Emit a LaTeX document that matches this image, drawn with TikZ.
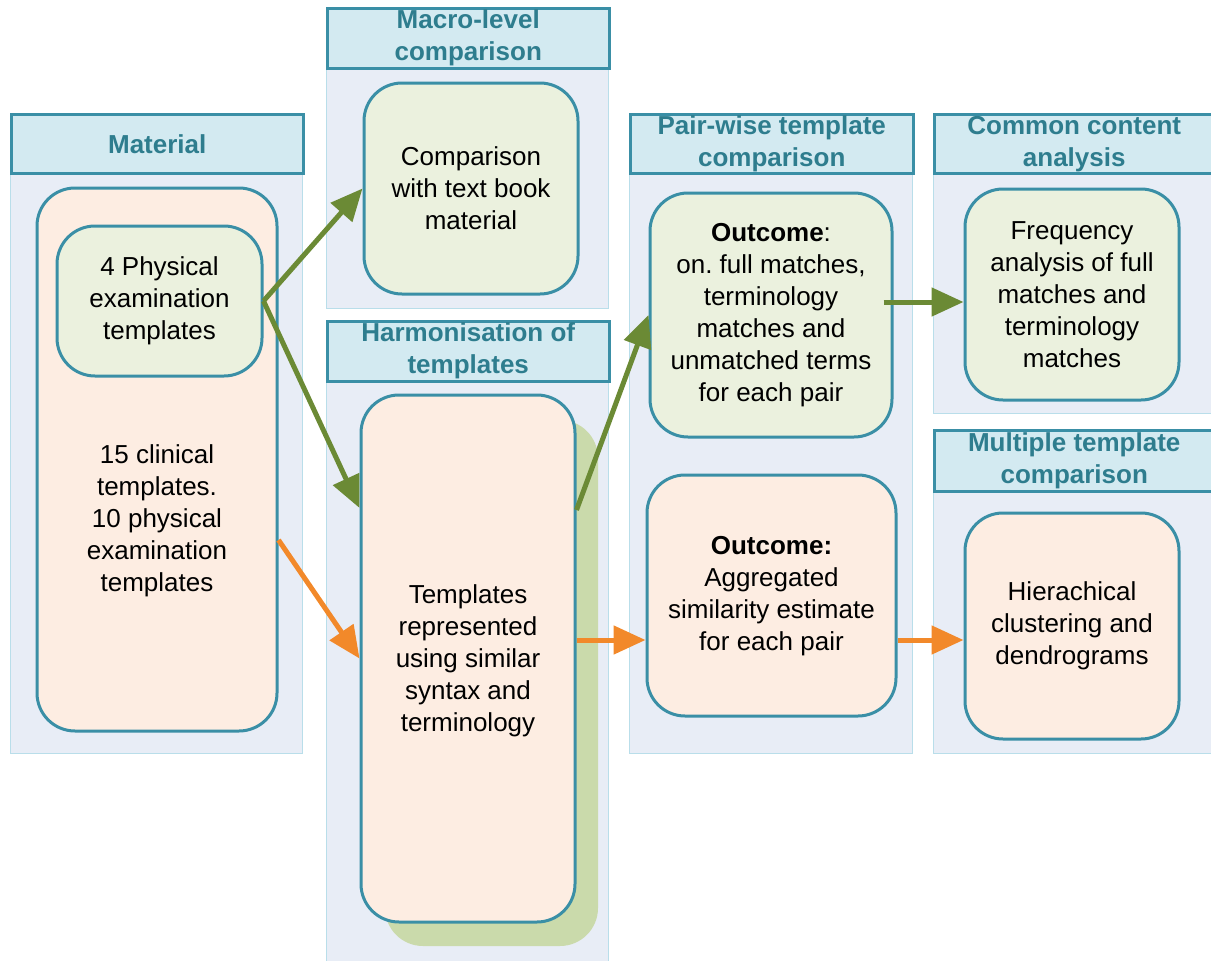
\documentclass[tikz,border=0pt]{standalone}
\usepackage{fontspec}
\setmainfont{Liberation Sans}
\usetikzlibrary{arrows.meta,calc}

\definecolor{lanefill}{HTML}{E8EDF6}
\definecolor{laneline}{HTML}{B9DEEA}
\definecolor{hdrfill}{HTML}{D3EAF1}
\definecolor{teal}{HTML}{3A8FA6}
\definecolor{hdrtext}{HTML}{2E7D8E}
\definecolor{greenfill}{HTML}{EBF1DE}
\definecolor{peachfill}{HTML}{FDEDE2}
\definecolor{shadowgreen}{HTML}{CADAAB}
\definecolor{olivearrow}{HTML}{6B8A35}
\definecolor{orangearrow}{HTML}{F2892A}

\begin{document}
\frenchspacing
\begin{tikzpicture}[x=1pt,y=-1pt,
  lane/.style={draw=laneline, fill=lanefill, line width=1.2pt, inner sep=0pt, anchor=north west},
  hdr/.style={draw=teal, fill=hdrfill, line width=2.5pt, inner sep=0pt, anchor=north west,
    align=center, text=hdrtext, font=\fontsize{26}{32}\selectfont\bfseries},
  box/.style={draw=teal, line width=3pt, rounded corners=38pt, inner sep=0pt,
    align=center, font=\fontsize{26}{32}\selectfont},
  gbox/.style={box, fill=greenfill},
  pbox/.style={box, fill=peachfill},
  txt/.style={align=center, inner sep=0pt, font=\fontsize{26}{32}\selectfont},
  shadowbox/.style={fill=shadowgreen, rounded corners=38pt, inner sep=0pt},
  garrow/.style={draw=olivearrow, line width=5pt, -{Triangle[length=32pt,width=28pt]}},
  oarrow/.style={draw=orangearrow, line width=5pt, -{Triangle[length=32pt,width=28pt]}}
]
\useasboundingbox (0,0) rectangle (1211,961);

% swim lanes
\node[lane, minimum width=292pt, minimum height=640pt] (matlane) at (10,113) {};
\node[lane, minimum width=282pt, minimum height=301pt] (macrolane) at (326,7) {};
\node[lane, minimum width=282pt, minimum height=645pt] (harmlane) at (326,320) {};
\node[lane, minimum width=283pt, minimum height=640pt] (pwlane) at (629,113) {};
\node[lane, minimum width=280pt, minimum height=300pt] (cclane) at (933,113) {};
\node[lane, minimum width=280pt, minimum height=324pt] (mtlane) at (933,429) {};

% lane headers
\node[hdr, minimum width=292pt, minimum height=59pt] (mathdr) at (10,113) {Material};
\node[hdr, minimum width=282pt, minimum height=60pt] (macrohdr) at (326,7) {Macro-level\\comparison};
\node[hdr, minimum width=282pt, minimum height=60pt] (harmhdr) at (326,320) {Harmonisation of\\templates};
\node[hdr, minimum width=283pt, minimum height=59pt] (pwhdr) at (629,113) {Pair-wise template\\comparison};
\node[hdr, minimum width=280pt, minimum height=59pt] (cchdr) at (933,113) {Common content\\analysis};
\node[hdr, minimum width=280pt, minimum height=61pt] (mthdr) at (933,429) {Multiple template\\comparison};

% material boxes
\node[pbox, minimum width=240pt, minimum height=543pt] (mat) at (157,459.5) {};
\node[txt] (mattxt) at (157,521) {15 clinical\\templates.\\10 physical\\examination\\templates};
\node[gbox, minimum width=205pt, minimum height=150pt] (phys) at (159.5,301) {4 Physical\\examination\\templates};

% macro-level comparison
\node[gbox, minimum width=214pt, minimum height=211pt] (macro) at (471,188.5) {Comparison\\with text book\\material};

% harmonisation with its backing shadow
\node[shadowbox, minimum width=213pt, minimum height=526pt] (harmshadow) at (491.5,683) {};
\node[pbox, minimum width=214pt, minimum height=527pt] (harm) at (468,658.5) {};
\node[txt] (harmtxt) at (468,661) {Templates\\represented\\using similar\\syntax and\\terminology};

% pair-wise comparison outcomes
\node[gbox, minimum width=242pt, minimum height=244pt] (pw1) at (771,315)
  {\textbf{Outcome}:\\on. full matches,\\terminology\\matches and\\unmatched terms\\for each pair};
\node[pbox, minimum width=249pt, minimum height=241pt] (pw2) at (771.5,595.5) {};
\node[txt] (pw2txt) at (771.5,596) {\textbf{Outcome:}\\Aggregated\\similarity estimate\\for each pair};

% follow-up analyses
\node[gbox, minimum width=214pt, minimum height=211pt] (cc) at (1072,294.5)
  {Frequency\\analysis of full\\matches and\\terminology\\matches};
\node[pbox, minimum width=214pt, minimum height=226pt] (mt) at (1072,626)
  {Hierachical\\clustering and\\dendrograms};

% connectors
\draw[garrow] (phys.east) -- (macro.west);
\draw[garrow] (phys.east) -- ([yshift=150.5pt]harm.west);
\draw[oarrow] ([yshift=-80.5pt]mat.east) -- (harm.west);
\draw[garrow] ([yshift=148.5pt]harm.east) -- (pw1.west);
\draw[oarrow] ([yshift=18.5pt]harm.east) -- ([yshift=-44.5pt]pw2.west);
\draw[garrow] ([xshift=-10pt,yshift=13pt]pw1.east) -- ([yshift=-7.5pt]cc.west);
\draw[oarrow] ([yshift=-44.5pt]pw2.east) -- ([yshift=-14pt]mt.west);
\end{tikzpicture}
\end{document}
